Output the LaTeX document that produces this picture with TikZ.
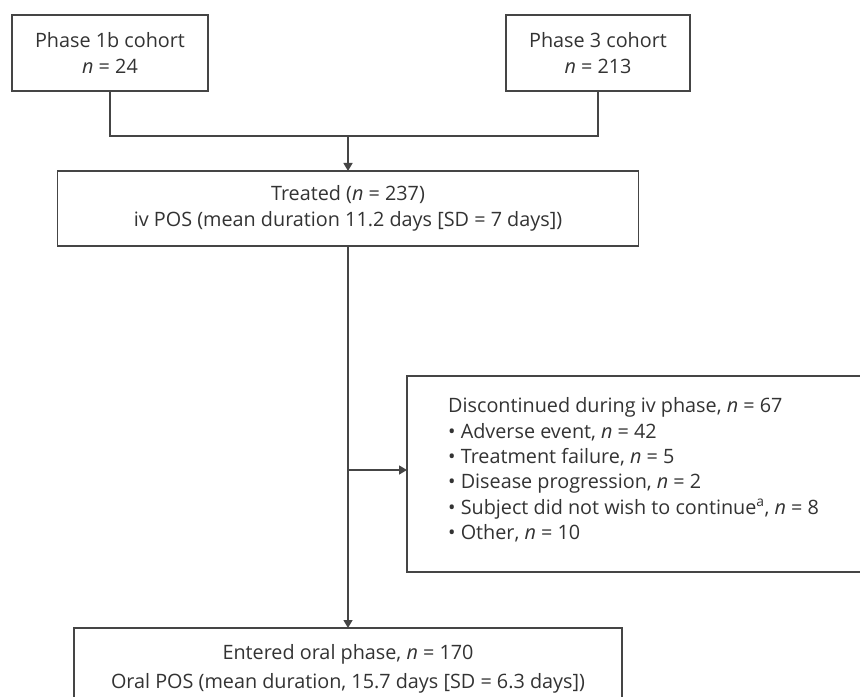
\documentclass[tikz,border=0pt]{standalone}
\usepackage{fontspec}
\setmainfont{Open Sans}
\usetikzlibrary{arrows.meta}
\definecolor{linec}{HTML}{454545}
\definecolor{textc}{HTML}{333333}
\begin{document}
\begin{tikzpicture}[x=1bp,y=-1bp,
  box/.style={draw=linec,line width=1.4bp,inner sep=0pt,outer sep=0pt,anchor=center,
    text=textc,align=center,font=\fontsize{19.8bp}{26.5bp}\selectfont},
  conn/.style={draw=linec,line width=1.4bp},
  tip/.style={conn,-{Triangle[length=8bp,width=9bp]}},
  txt/.style={text=textc,inner sep=0pt,font=\fontsize{19.8bp}{25.3bp}\selectfont}]
\useasboundingbox (0,0) rectangle (860,697);
\clip (0,0) rectangle (860,697);
\fill[white] (0,0) rectangle (860,697);
% boxes
\node[box,minimum width=196bp,minimum height=76bp] (p1) at (110,53)
  {Phase 1b cohort\\\textit{n} = 24};
\node[box,minimum width=184bp,minimum height=76bp] (p3) at (598,53)
  {Phase 3 cohort\\\textit{n} = 213};
\node[box,minimum width=581bp,minimum height=75bp] (tr) at (348,208.5)
  {Treated (\textit{n} = 237)\\iv POS (mean duration 11.2 days [SD = 7 days])};
\node[box,minimum width=480bp,minimum height=196bp] (dc) at (647,474) {};
\node[txt,anchor=west,align=left] (dct) at (448,470)
  {Discontinued during iv phase, \textit{n} = 67\\
   • Adverse event, \textit{n} = 42\\
   • Treatment failure, \textit{n} = 5\\
   • Disease progression, \textit{n} = 2\\
   • Subject did not wish to continue\textsuperscript{a}, \textit{n} = 8\\
   • Other, \textit{n} = 10};
\node[box,minimum width=548bp,minimum height=104bp] (or) at (348,680) {};
\node[txt,align=center,font=\fontsize{19.8bp}{29bp}\selectfont] (ort) at (348,669)
  {Entered oral phase, \textit{n} = 170\\
   Oral POS (mean duration, 15.7 days [SD = 6.3 days])};
% connectors
\coordinate (jn) at (348,136);
\coordinate (br) at (348,470);
\draw[conn] (p1.south) |- (jn);
\draw[conn] (p3.south) |- (jn);
\draw[tip] (jn) -- (tr.north);
\draw[tip] (tr.south) -- (or.north);
\draw[tip] (br) -- (dc.west |- br);
\end{tikzpicture}
\end{document}
